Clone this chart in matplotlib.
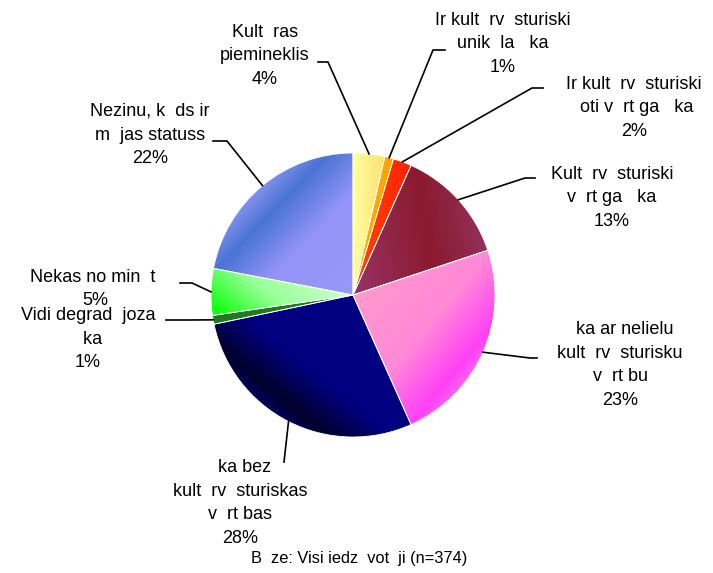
import matplotlib.pyplot as plt
import numpy as np
from matplotlib.colors import LinearSegmentedColormap

# ---------------------------------------
# Data (share of respondents, %)
# ---------------------------------------
labels = [
    "Kult  ras\npiemineklis",
    "Ir kult  rv  sturiski\nunik  la   ka",
    "Ir kult  rv  sturiski\n oti v  rt ga   ka",
    "Kult  rv  sturiski\nv  rt ga   ka",
    "  ka ar nelielu\nkult  rv  sturisku\nv  rt bu",
    "  ka bez\nkult  rv  sturiskas\nv  rt bas",
    "Vidi degrad  joza\n  ka",
    "Nekas no min  t ",
    "Nezinu, k  ds ir\nm  jas statuss",
]
values = [3.6, 1.0, 2.1, 13.2, 23.4, 28.4, 1.0, 5.3, 22.0]
footer = "B  ze: Visi iedz  vot  ji (n=374)"

# gradient stops (position, colour) + direction (deg) per slice
grads = [
    ([(0, "#FFFFA0"), (1, "#FFE070")], 0),
    ([(0, "#FFB400"), (1, "#FFA000")], 0),
    ([(0, "#FF4A00"), (1, "#FF2000")], 0),
    ([(0, "#993366"), (0.6, "#8A1A2E"), (1, "#93305A")], 10),
    ([(0, "#FF99CC"), (0.55, "#FF88D8"), (0.9, "#FF40F6"), (1, "#FF60F0")], -40),
    ([(0, "#000080"), (0.6, "#000080"), (0.88, "#00002C"), (1, "#000058")], 231),
    ([(0, "#1E7B1E"), (1, "#1E7B1E")], 0),
    ([(0, "#CCFFCC"), (0.5, "#99FF99"), (1, "#00FF00")], 230),
    ([(0, "#9898FA"), (0.5, "#9494F8"), (0.82, "#4A74D4"), (1, "#8290EC")], 136),
]

# label layout in pixels: text centre, elbow start (near text), elbow end
layout = [
    ((265, 56), (318, 62), (328, 62)),
    ((503, 44), (445, 50), (433, 50)),
    ((634, 108), (543, 88), (532, 88)),
    ((612, 198), (535, 178), (525, 178)),
    ((620, 365), (537, 358), (530, 358)),
    ((240, 503), (284, 462), (284, 462)),
    ((88, 339), (166, 320), (190, 320)),
    ((95, 289), (180, 283), (192, 283)),
    ((150, 135), (213, 141), (227, 141)),
]

CX, CY, R = 353, 295, 142


def px(p):
    return ((p[0] - CX) / R, (CY - p[1]) / R)


plt.rcParams['font.family'] = ['Liberation Sans', 'DejaVu Sans']

fig = plt.figure(figsize=(7.13, 5.73), dpi=100)
ax = fig.add_axes([0, 0, 1, 1])

wedges, _ = ax.pie(values, startangle=90, counterclock=False, radius=1,
                   wedgeprops=dict(facecolor='none', edgecolor='white', linewidth=0.6))

# gradient fill clipped to each wedge
n = 400
gx, gy = np.meshgrid(np.linspace(-1, 1, n), np.linspace(1, -1, n))
for w, (cols, ang) in zip(wedges, grads):
    a = np.deg2rad(ang)
    th = np.deg2rad(np.linspace(w.theta1, w.theta2, 50))
    ptsx = np.concatenate([[0], np.cos(th)])
    ptsy = np.concatenate([[0], np.sin(th)])
    proj = ptsx * np.cos(a) + ptsy * np.sin(a)
    t = (gx * np.cos(a) + gy * np.sin(a) - proj.min()) / (proj.max() - proj.min() + 1e-9)
    cmap = LinearSegmentedColormap.from_list("g", cols)
    im = ax.imshow(np.clip(t, 0, 1), cmap=cmap, vmin=0, vmax=1,
                   extent=[-1, 1, -1, 1], zorder=1, interpolation='bilinear')
    im.set_clip_path(w)
    w.set_zorder(2)

# labels + leader lines
for w, v, lab, (tc, e1, e2) in zip(wedges, values, labels, layout):
    mid = np.deg2rad((w.theta1 + w.theta2) / 2)
    ex, ey = np.cos(mid), np.sin(mid)
    p1, p2 = px(e1), px(e2)
    ax.plot([p1[0], p2[0], ex], [p1[1], p2[1], ey], color='black', lw=1.2, zorder=3)
    tx, ty = px(tc)
    ax.text(tx, ty, f"{lab}\n{v:.0f}%", ha='center', va='center', multialignment='center',
            fontsize=13, linespacing=1.5, color='black', zorder=4)

fx, fy = px((359, 558))
ax.text(fx, fy, footer, ha='center', va='center', fontsize=11.8, color='black')

ax.set_xlim(-CX / R, (713 - CX) / R)
ax.set_ylim(-(573 - CY) / R, CY / R)
ax.set_aspect('equal')
ax.axis('off')

plt.savefig("out.png", dpi=100)
